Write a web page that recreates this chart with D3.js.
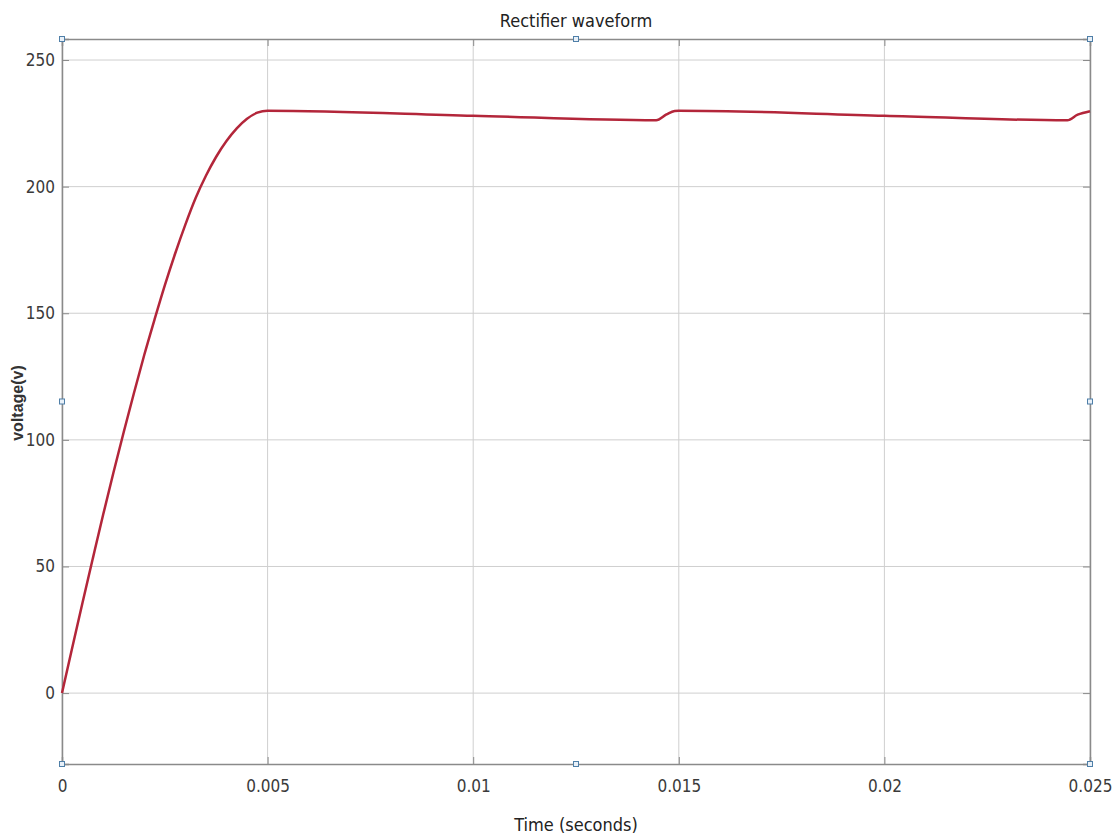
<!DOCTYPE html>
<html>
<head>
<meta charset="utf-8">
<script src="https://cdn.jsdelivr.net/npm/d3@7"></script>
<style>
  body { margin: 0; background: #fff; }
  svg text { font-family: "DejaVu Sans Condensed", "Liberation Sans Narrow", "Liberation Sans", sans-serif; font-stretch: condensed; fill: #333; }
</style>
</head>
<body>
<div id="chart"></div>
<script>
// Rectifier waveform
const zeitMs = [0, 0.25, 0.5, 0.75, 1, 1.25, 1.5, 1.75, 2, 2.25, 2.5, 2.75, 3, 3.25, 3.5, 3.75, 4, 4.25, 4.5, 4.75, 5,
                10, 14.45, 14.7, 14.9, 15, 20, 24.45, 24.7, 25];
const spannung = [0, 18, 35.8, 53.2, 70.4, 87, 103, 118.5, 133.5, 147.5, 161, 173.5, 185, 195.5, 204.3, 211.8, 218, 223, 226.8, 229.2, 230,
                  228, 226.2, 228.5, 229.9, 230, 228, 226.2, 228.4, 229.8];
const xTicks = [0, 0.005, 0.01, 0.015, 0.02, 0.025];
const yTicks = [0, 50, 100, 150, 200, 250];
const xDomain = [0, 0.025];
const yDomain = [-28, 258.3];

const breite = 1114, hoehe = 838;
const rand = { links: 62, rechts: 1090, oben: 39, unten: 764 };

const svg = d3.select('#chart').append('svg')
    .attr('width', breite)
    .attr('height', hoehe);

const x = d3.scaleLinear().domain(xDomain).range([rand.links, rand.rechts]);
const y = d3.scaleLinear().domain(yDomain).range([rand.unten, rand.oben]);

// Gitter
svg.append('g').selectAll('line')
    .data(xTicks)
    .enter().append('line')
    .attr('x1', d => x(d)).attr('x2', d => x(d))
    .attr('y1', rand.oben).attr('y2', rand.unten)
    .attr('stroke', '#cfcfcf').attr('stroke-width', 1);

svg.append('g').selectAll('line')
    .data(yTicks)
    .enter().append('line')
    .attr('x1', rand.links).attr('x2', rand.rechts)
    .attr('y1', d => y(d)).attr('y2', d => y(d))
    .attr('stroke', '#cfcfcf').attr('stroke-width', 1);

// Achsen
const xAchse = svg.append('g')
    .attr('transform', `translate(0,${rand.unten})`)
    .call(d3.axisBottom(x).tickValues(xTicks).tickFormat(d3.format('~g')).tickSize(-7).tickPadding(16));
const yAchse = svg.append('g')
    .attr('transform', `translate(${rand.links},0)`)
    .call(d3.axisLeft(y).tickValues(yTicks).tickSize(-7).tickPadding(7));
svg.append('g')
    .attr('transform', `translate(0,${rand.oben})`)
    .call(d3.axisTop(x).tickValues(xTicks).tickFormat('').tickSize(-7));
svg.append('g')
    .attr('transform', `translate(${rand.rechts},0)`)
    .call(d3.axisRight(y).tickValues(yTicks).tickFormat('').tickSize(-7));

svg.selectAll('.domain').attr('stroke', '#8a8a8a').attr('stroke-width', 1.5);
svg.selectAll('.tick line').attr('stroke', '#8a8a8a');
[xAchse, yAchse].forEach(a => a.selectAll('text')
    .attr('font-size', '17px')
    .style('font-family', '"DejaVu Sans Condensed", "Liberation Sans", sans-serif')
    .style('fill', '#3a3a3a'));

// Kurve
const linie = d3.line()
    .x((d, i) => x(zeitMs[i] / 1000))
    .y(d => y(d))
    .curve(d3.curveMonotoneX);

svg.append('path')
    .datum(spannung)
    .attr('d', linie)
    .attr('fill', 'none')
    .attr('stroke', '#b3263a')
    .attr('stroke-width', 2.5);

// Markierungen (Auswahlgriffe)
const griffe = [
    [rand.links, rand.oben], [(rand.links + rand.rechts) / 2, rand.oben], [rand.rechts, rand.oben],
    [rand.links, (rand.oben + rand.unten) / 2], [rand.rechts, (rand.oben + rand.unten) / 2],
    [rand.links, rand.unten], [(rand.links + rand.rechts) / 2, rand.unten], [rand.rechts, rand.unten]
];
svg.append('g').selectAll('rect')
    .data(griffe)
    .enter().append('rect')
    .attr('x', d => d[0] - 2.5).attr('y', d => d[1] - 2.5)
    .attr('width', 5).attr('height', 5)
    .attr('fill', '#e8f0f8').attr('stroke', '#4f7fa8').attr('stroke-width', 1);

// Beschriftung
svg.append('text')
    .attr('x', 576).attr('y', 27)
    .attr('text-anchor', 'middle')
    .attr('font-size', '18px')
    .style('fill', '#222')
    .text('Rectifier  waveform');

svg.append('text')
    .attr('x', 576).attr('y', 831)
    .attr('text-anchor', 'middle')
    .attr('font-size', '18px')
    .style('fill', '#222')
    .text('Time (seconds)');

svg.append('text')
    .attr('transform', 'translate(23,403) rotate(-90)')
    .attr('text-anchor', 'middle')
    .attr('font-size', '16px')
    .attr('font-weight', 'bold')
    .style('font-family', '"Liberation Sans", Arial, sans-serif')
    .style('fill', '#333')
    .text('voltage(v)');
</script>
</body>
</html>
